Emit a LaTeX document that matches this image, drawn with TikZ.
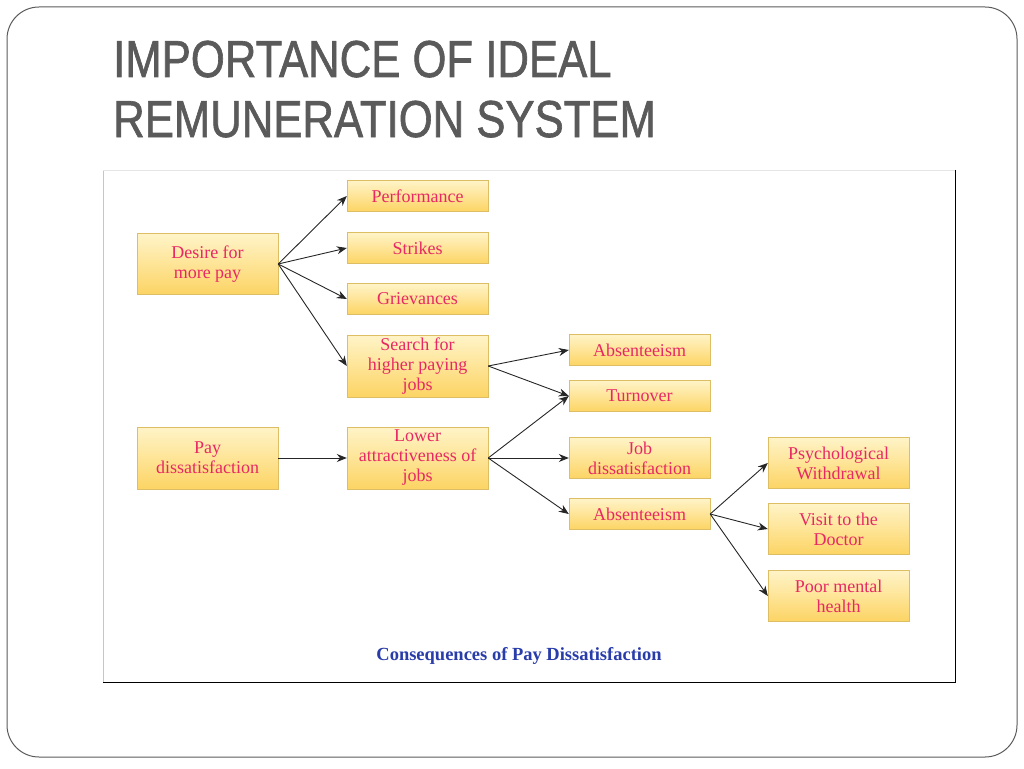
\documentclass[tikz,border=0pt]{standalone}
\usepackage{fontspec}
\setmainfont{Liberation Serif}
\newfontfamily\titlefont[FakeStretch=0.84,FakeBold=1.2]{Liberation Sans}
\usepackage{tikz}
\usetikzlibrary{arrows.meta}

\definecolor{boxtop}{RGB}{255,244,200}
\definecolor{boxbot}{RGB}{252,212,100}
\definecolor{boxedge}{RGB}{222,190,100}
\definecolor{boxtext}{RGB}{232,40,100}
\definecolor{titlegray}{RGB}{90,90,90}
\definecolor{capblue}{RGB}{40,60,170}

\begin{document}
\begin{tikzpicture}[x=1pt,y=-1pt,
  box/.style={draw=boxedge,top color=boxtop,bottom color=boxbot,minimum width=141pt,
    inner sep=0pt,align=center,text=boxtext,font=\fontsize{18}{20}\selectfont},
  arr/.style={-{Stealth[length=10pt,width=8pt]},draw=black!85,line width=0.9pt}]

\useasboundingbox (0,0) rectangle (1024,768);

\draw[draw=titlegray,line width=1pt,rounded corners=32pt] (7,7) rectangle (1017,757);

\node[anchor=base west,inner sep=0pt,text=titlegray,font=\titlefont\fontsize{52}{60}\selectfont] (t1) at (113,77) {IMPORTANCE OF IDEAL};
\node[anchor=base west,inner sep=0pt,text=titlegray,font=\titlefont\fontsize{52}{60}\selectfont] (t2) at (113,137) {REMUNERATION SYSTEM};

\draw[gray!45] (103,682)--(103,170);
\draw[gray!20] (103,170)--(955,170);
\draw[black,line width=1pt] (955,170)--(955,682)--(103,682);

\node[box,minimum height=61pt] (dp) at (207.5,264) {Desire for\\more pay};
\node[box,minimum height=31pt] (pf) at (417.5,196) {Performance};
\node[box,minimum height=31pt] (st) at (417.5,248) {Strikes};
\node[box,minimum height=31pt] (gr) at (417.5,299) {Grievances};
\node[box,minimum height=62pt] (sh) at (417.5,366) {Search for\\higher paying\\jobs};

\draw[arr] (dp.east)--(pf.west);
\draw[arr] (dp.east)--(st.west);
\draw[arr] (dp.east)--(gr.west);
\draw[arr] (dp.east)--(sh.west);

\node[box,minimum height=62pt] (pd) at (207.5,458) {Pay\\dissatisfaction};
\node[box,minimum height=62pt] (la) at (417.5,458) {Lower\\attractiveness of\\jobs};
\draw[arr] (pd.east)--(la.west);

\node[box,minimum height=31pt] (ab1) at (639.5,350) {Absenteeism};
\node[box,minimum height=31pt] (to) at (639.5,396) {Turnover};
\node[box,minimum height=41pt] (jd) at (639.5,458) {Job\\dissatisfaction};
\node[box,minimum height=31pt] (ab2) at (639.5,514) {Absenteeism};

\draw[arr] (sh.east)--(ab1.west);
\draw[arr] (sh.east)--(to.west);
\draw[arr] (la.east)--(to.west);
\draw[arr] (la.east)--(jd.west);
\draw[arr] (la.east)--(ab2.west);

\node[box,minimum height=51pt] (pw) at (838.5,463) {Psychological\\Withdrawal};
\node[box,minimum height=51pt] (vd) at (838.5,529) {Visit to the\\Doctor};
\node[box,minimum height=51pt] (pm) at (838.5,596) {Poor mental\\health};

\draw[arr] (ab2.east)--(pw.west);
\draw[arr] (ab2.east)--(vd.west);
\draw[arr] (ab2.east)--(pm.west);

\node[text=capblue,font=\bfseries\fontsize{18.5}{20}\selectfont] (cap) at (519,656) {Consequences of Pay Dissatisfaction};

\end{tikzpicture}
\end{document}
